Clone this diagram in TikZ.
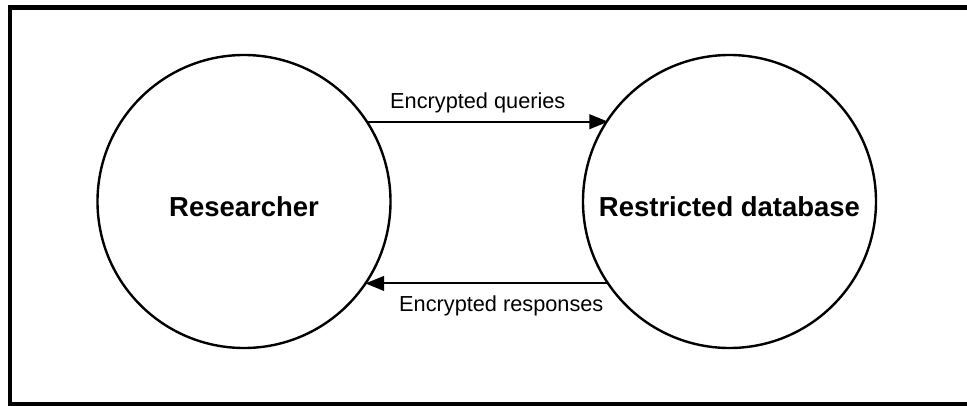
\documentclass[tikz,border=0pt]{standalone}
\usepackage{fontspec}
\setmainfont{Liberation Sans}
\usepackage{tikz}
\usetikzlibrary{arrows.meta,positioning}

\begin{document}
\begin{tikzpicture}[
 x=0.75pt,y=0.75pt,
 party/.style={circle,draw=black,line width=1.8pt,minimum size=219.75pt,inner sep=0pt,outer sep=0pt,text height=22.8pt,font=\fontsize{20.6}{24}\selectfont\bfseries},
 msg/.style={-{Triangle[length=14pt,width=11pt]},draw=black,line width=1.5pt},
 msglabel/.style={anchor=base,inner sep=0pt,font=\fontsize{16.3}{19}\selectfont}
]
\clip (0,0) rectangle (967,405);
\draw[line width=3.4pt] (10.2,0.5) rectangle (990,397.6);
\node[party] (researcher) at (244,203.5) {Researcher};
\node[party] (database) at (729.5,203.5) {Restricted database};
\draw[msg] (researcher.33.8) -- node[msglabel,pos=0.46,yshift=10pt] (qlabel) {Encrypted queries} (database.146.2 |- researcher.33.8);
\draw[msg] (database.214.7) -- node[msglabel,pos=0.44,yshift=-21.2pt] (rlabel) {Encrypted responses} (researcher.-34.7 |- database.214.7);
\end{tikzpicture}
\end{document}
